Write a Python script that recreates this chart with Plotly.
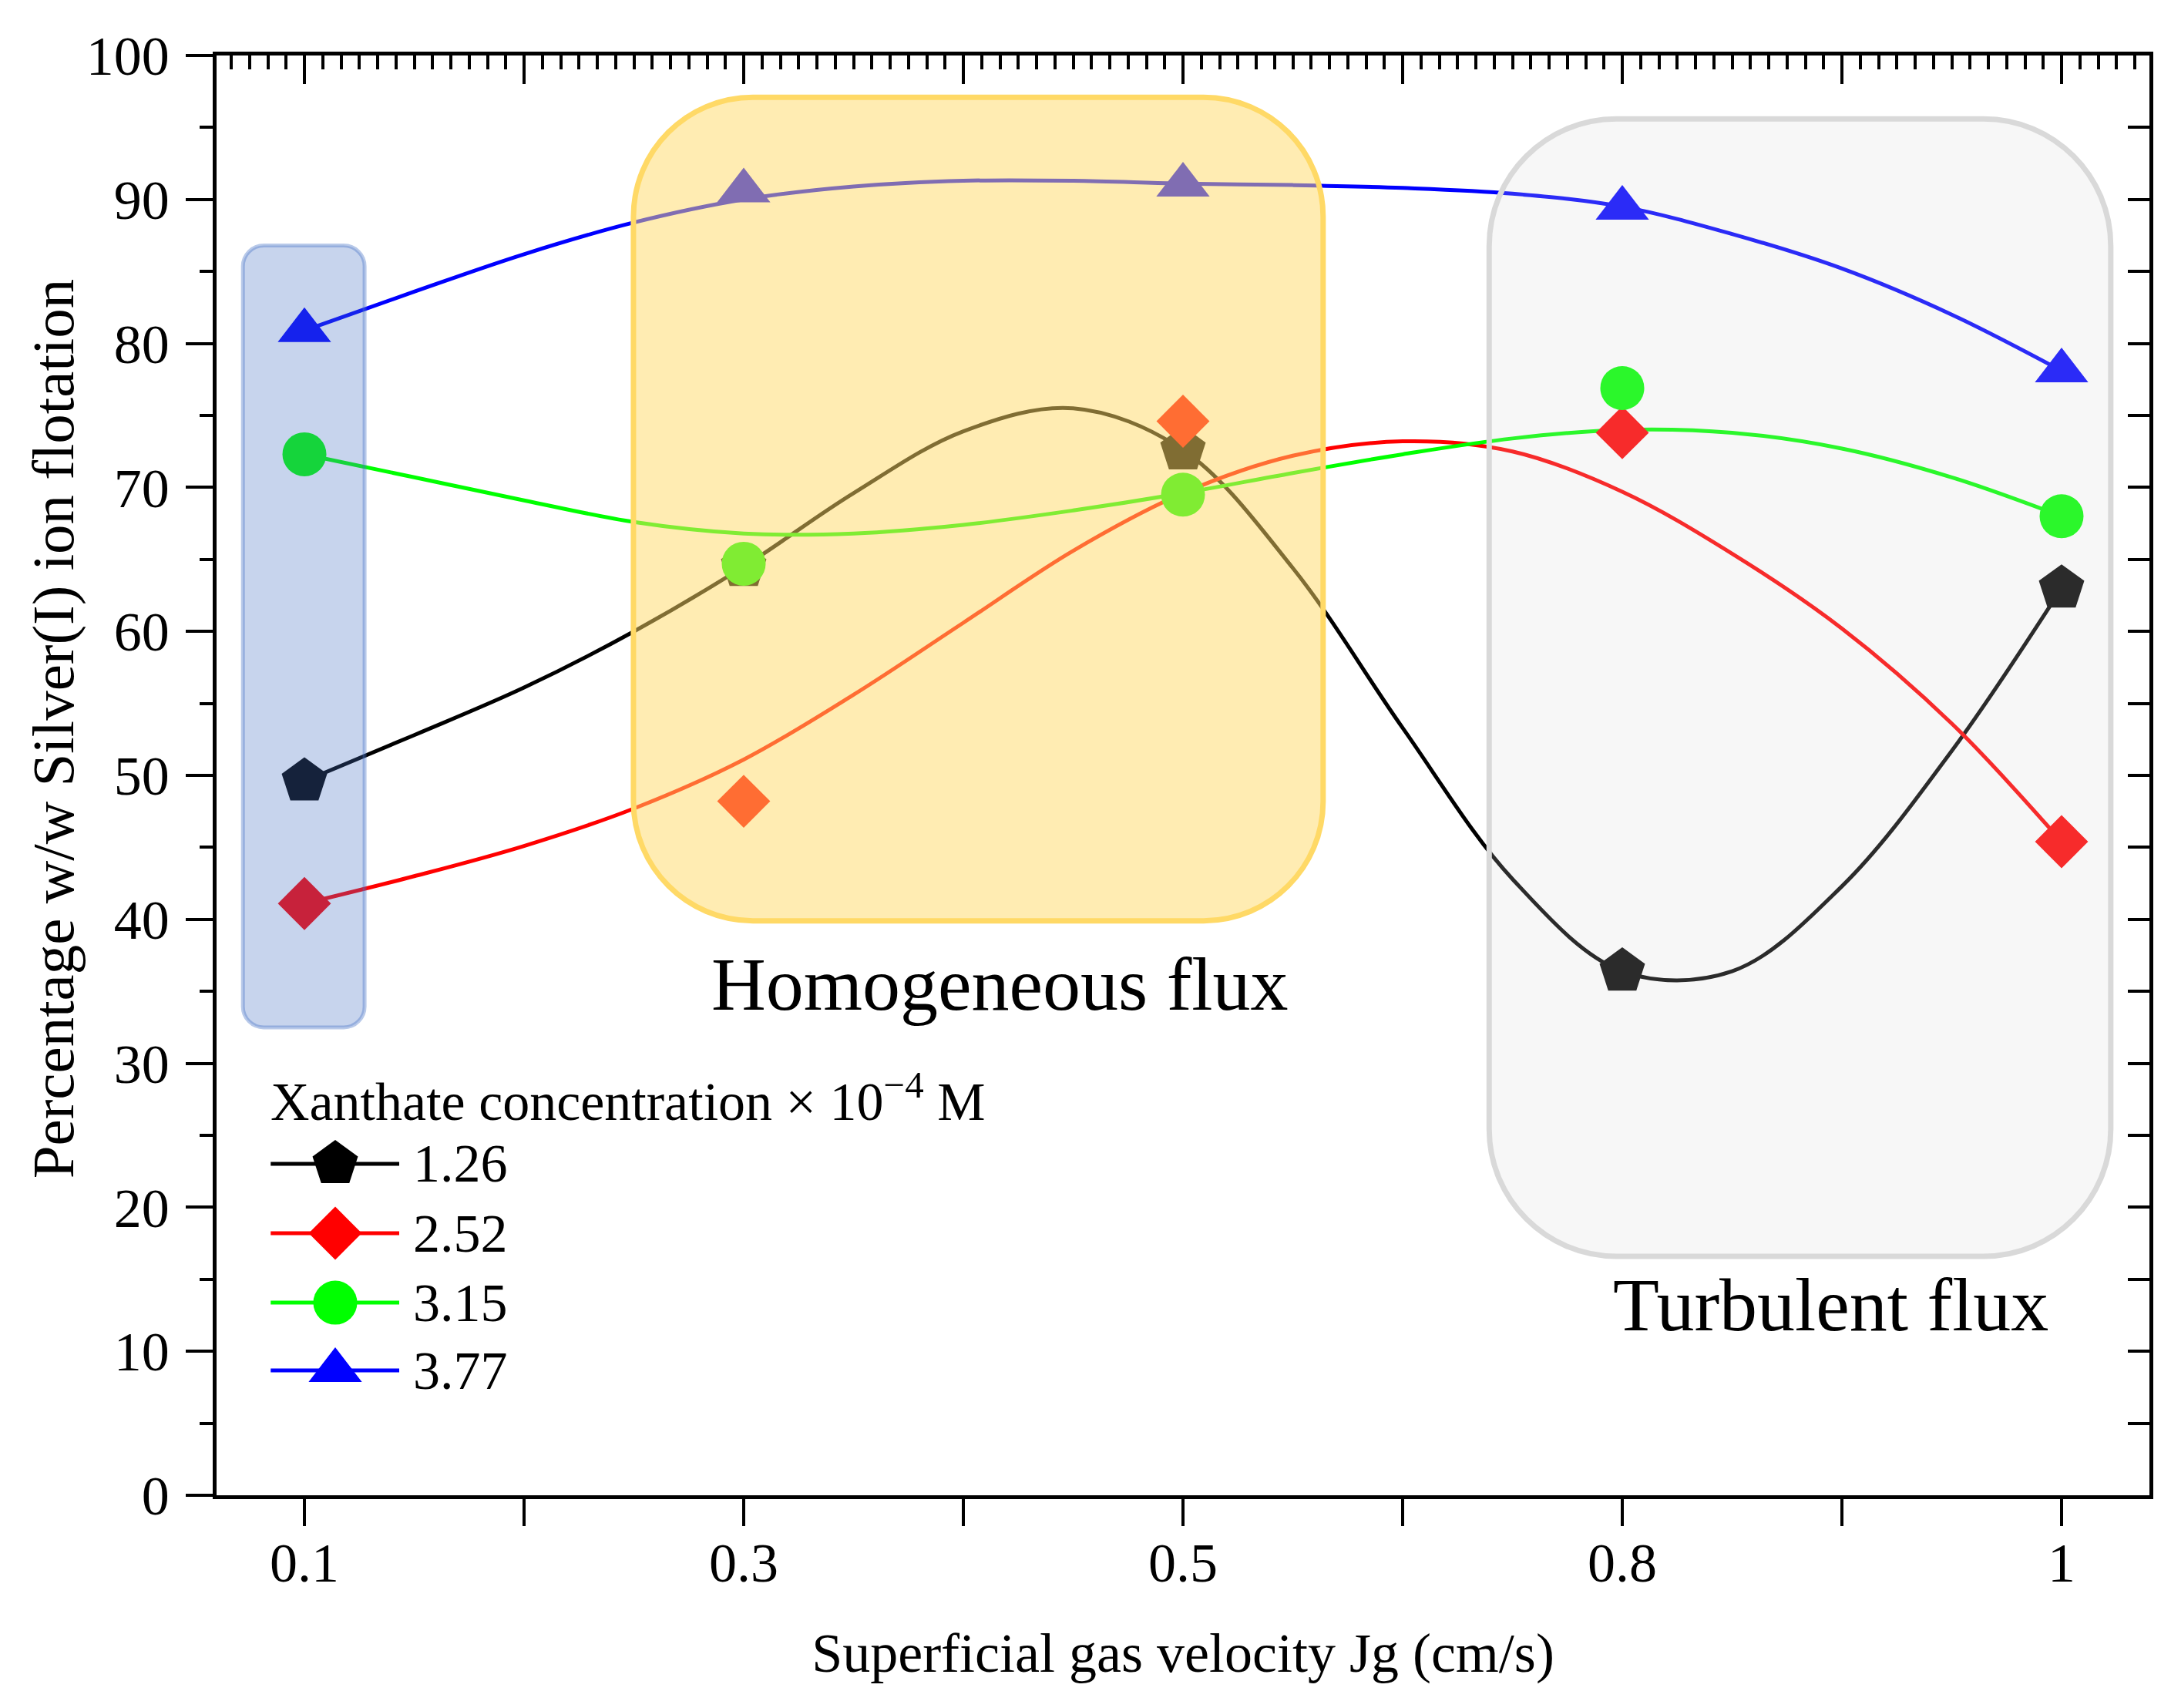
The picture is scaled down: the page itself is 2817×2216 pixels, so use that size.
import plotly.graph_objects as go

# ---------------- data ----------------
X_LABELS = ["0.1", "0.3", "0.5", "0.8", "1"]
X_POS = [0, 1, 2, 3, 4]
SERIES_NAMES = ["1.26", "2.52", "3.15", "3.77"]

Y_126 = [49.6, 64.5, 72.6, 36.4, 63.0]
Y_252 = [41.1, 48.2, 74.6, 73.8, 45.4]
Y_315 = [72.3, 64.7, 69.5, 76.9, 68.0]
Y_377 = [80.9, 90.6, 91.0, 89.4, 78.1]

# smoothed fit curves at these x positions
CURVE_X = [0, 0.25, 0.5, 0.75, 1, 1.25, 1.5, 1.75, 2, 2.25, 2.5, 2.75, 3, 3.25, 3.5, 3.75, 4]
CURVE_126 = [49.6, 52.8, 56.1, 60.0, 64.5, 69.6, 73.9, 75.5, 72.6, 64.4, 53.3, 42.8, 36.4, 36.4, 42.3, 51.7, 63.0]
CURVE_252 = [41.1, 43.0, 45.1, 47.7, 51.1, 55.6, 60.6, 65.6, 69.6, 72.2, 73.2, 72.5, 69.7, 65.4, 60.2, 53.6, 45.4]
CURVE_315 = [72.3, 70.7, 69.1, 67.6, 66.8, 66.8, 67.4, 68.4, 69.6, 71.0, 72.3, 73.4, 74.0, 73.8, 72.7, 70.7, 68.0]
CURVE_377 = [80.9, 83.6, 86.2, 88.4, 90.0, 90.9, 91.3, 91.3, 91.1, 91.0, 90.8, 90.4, 89.5, 87.6, 85.2, 82.0, 78.1]

POINTS = [Y_126, Y_252, Y_315, Y_377]
CURVES = [CURVE_126, CURVE_252, CURVE_315, CURVE_377]

# ---------------- style ----------------
COLORS = ["#000000", "#FF0000", "#00FF00", "#0000FF"]
SYMBOLS = ["pentagon", "diamond", "circle", "triangle-up"]
MSIZES = [62, 53, 57, 60]
FONT = "Liberation Serif"

W, H = 2817, 2216
ML, MR, MT, MB = 273, 36, 64, 284
XR = [-0.2, 4.2]
YR = [0, 100]
PX_X = (W - ML - MR) / (XR[1] - XR[0])
PX_Y = (H - MT - MB) / (YR[1] - YR[0])


def rounded_rect(x0, x1, y0, y1, rpx):
    rx = rpx / PX_X
    ry = rpx / PX_Y
    k = 0.4477  # 1 - 0.5523
    p = []
    p.append(f"M{x0 + rx},{y1}")
    p.append(f"L{x1 - rx},{y1}")
    p.append(f"C{x1 - rx * k},{y1} {x1},{y1 - ry * k} {x1},{y1 - ry}")
    p.append(f"L{x1},{y0 + ry}")
    p.append(f"C{x1},{y0 + ry * k} {x1 - rx * k},{y0} {x1 - rx},{y0}")
    p.append(f"L{x0 + rx},{y0}")
    p.append(f"C{x0 + rx * k},{y0} {x0},{y0 + ry * k} {x0},{y0 + ry}")
    p.append(f"L{x0},{y1 - ry}")
    p.append(f"C{x0},{y1 - ry * k} {x0 + rx * k},{y1} {x0 + rx},{y1}")
    p.append("Z")
    return " ".join(p)


fig = go.Figure()

# fitted curves (main subplot)
for name, cy, col in zip(SERIES_NAMES, CURVES, COLORS):
    fig.add_trace(go.Scatter(
        x=CURVE_X, y=cy, mode="lines", name=name, showlegend=False,
        line=dict(color=col, width=5, shape="spline", smoothing=1.0),
        hoverinfo="skip"))

# measured points (overlay subplot with the top / right frame axes, drawn above the curves)
for name, py, col, sym, ms in zip(SERIES_NAMES, POINTS, COLORS, SYMBOLS, MSIZES):
    fig.add_trace(go.Scatter(
        x=X_POS, y=py, mode="markers", name=name, showlegend=False,
        xaxis="x2", yaxis="y2",
        marker=dict(color=col, symbol=sym, size=ms, line=dict(width=0)),
        cliponaxis=False))

# ---------------- manual legend ----------------
LEG_LINE_X = [0.028, 0.0945]
LEG_MARK_X = 0.0614
LEG_TEXT_X = 0.101
LEG_ROWS_Y = [0.2302, 0.1820, 0.1338, 0.0867]
LEG_TITLE = "Xanthate concentration × 10<sup>−4</sup> M"

shapes = []
annotations = []
for name, col, sym, ms, ry in zip(SERIES_NAMES, COLORS, SYMBOLS, MSIZES, LEG_ROWS_Y):
    shapes.append(dict(type="line", xref="paper", yref="paper",
                       x0=LEG_LINE_X[0], x1=LEG_LINE_X[1], y0=ry, y1=ry,
                       line=dict(color=col, width=5)))
    fig.add_trace(go.Scatter(
        x=[LEG_MARK_X], y=[ry], xaxis="x3", yaxis="y3", mode="markers",
        showlegend=False, hoverinfo="skip", cliponaxis=False,
        marker=dict(color=col, symbol=sym, size=ms, line=dict(width=0))))
    annotations.append(dict(xref="paper", yref="paper", x=LEG_TEXT_X, y=ry,
                            xanchor="left", yanchor="middle", showarrow=False,
                            text=name, font=dict(family=FONT, size=70, color="black")))

annotations.append(dict(xref="paper", yref="paper", x=0.027, y=0.2762,
                        xanchor="left", yanchor="middle", showarrow=False,
                        text=LEG_TITLE, font=dict(family=FONT, size=70, color="black")))

# y axis title (placed as in the reference, slightly above the axis centre)
annotations.append(dict(xref="paper", yref="paper", x=-0.0845, y=0.532,
                        xanchor="center", yanchor="middle", showarrow=False, textangle=-90,
                        text="Percentage w/w Silver(I) ion flotation",
                        font=dict(family=FONT, size=77, color="black")))

# region boxes
shapes.append(dict(type="path", xref="x", yref="y", layer="above",
                   path=rounded_rect(2.697, 4.112, 16.6, 95.6, 165),
                   fillcolor="rgba(217,217,217,0.2)",
                   line=dict(color="#D9D9D9", width=7)))
shapes.append(dict(type="path", xref="x", yref="y", layer="above",
                   path=rounded_rect(0.749, 2.319, 39.9, 97.1, 155),
                   fillcolor="rgba(255,217,102,0.5)",
                   line=dict(color="#FFD966", width=7)))
shapes.append(dict(type="path", xref="x", yref="y", layer="above",
                   path=rounded_rect(-0.140, 0.137, 32.5, 86.8, 27),
                   fillcolor="rgba(68,114,196,0.3)",
                   line=dict(color="rgba(68,114,196,0.38)", width=5)))

annotations.append(dict(xref="x", yref="y", x=1.584, y=35.5, showarrow=False,
                        text="Homogeneous flux", xanchor="center", yanchor="middle",
                        font=dict(family=FONT, size=98, color="black")))
annotations.append(dict(xref="x", yref="y", x=3.475, y=13.2, showarrow=False,
                        text="Turbulent flux", xanchor="center", yanchor="middle",
                        font=dict(family=FONT, size=98, color="black")))

AX_W = 4.5
TICK_FONT = dict(family=FONT, size=72, color="black")

fig.update_layout(
    width=W, height=H,
    margin=dict(l=ML, r=MR, t=MT, b=MB),
    paper_bgcolor="white", plot_bgcolor="white",
    showlegend=False,
    shapes=shapes, annotations=annotations,
    xaxis=dict(
        range=XR, tickmode="array", tickvals=X_POS, ticktext=X_LABELS,
        ticks="outside", ticklen=35, tickwidth=4, tickcolor="black",
        minor=dict(tick0=0, dtick=0.5, ticks="outside", ticklen=35, tickwidth=4, tickcolor="black"),
        showline=True, linecolor="black", linewidth=AX_W, showgrid=False, zeroline=False,
        tickfont=TICK_FONT, ticklabelstandoff=-14,
        title=dict(text="Superficial gas velocity Jg (cm/s)",
                   font=dict(family=FONT, size=72, color="black"), standoff=53),
    ),
    yaxis=dict(
        range=YR, tick0=0, dtick=10,
        ticks="outside", ticklen=35, tickwidth=4, tickcolor="black",
        minor=dict(tick0=0, dtick=5, ticks="outside", ticklen=17, tickwidth=4, tickcolor="black"),
        showline=True, linecolor="black", linewidth=AX_W, showgrid=False, zeroline=False,
        tickfont=TICK_FONT, ticklabelstandoff=7,
    ),
    xaxis2=dict(
        overlaying="x", side="top", anchor="y2", range=XR,
        tick0=0, dtick=0.5, ticks="inside", ticklen=37, tickwidth=4, tickcolor="black",
        minor=dict(tick0=0, dtick=0.5 / 12, ticks="inside", ticklen=18, tickwidth=4, tickcolor="black"),
        showticklabels=False, showline=True, linecolor="black", linewidth=AX_W,
        showgrid=False, zeroline=False,
    ),
    yaxis2=dict(
        overlaying="y", side="right", anchor="x2", range=YR,
        tick0=0, dtick=5, ticks="inside", ticklen=28, tickwidth=4, tickcolor="black",
        showticklabels=False, showline=True, linecolor="black", linewidth=AX_W,
        showgrid=False, zeroline=False,
    ),
    xaxis3=dict(overlaying="x", anchor="y3", range=[0, 1], visible=False),
    yaxis3=dict(overlaying="y", anchor="x3", range=[0, 1], visible=False),
)

fig.write_html("out.html")
